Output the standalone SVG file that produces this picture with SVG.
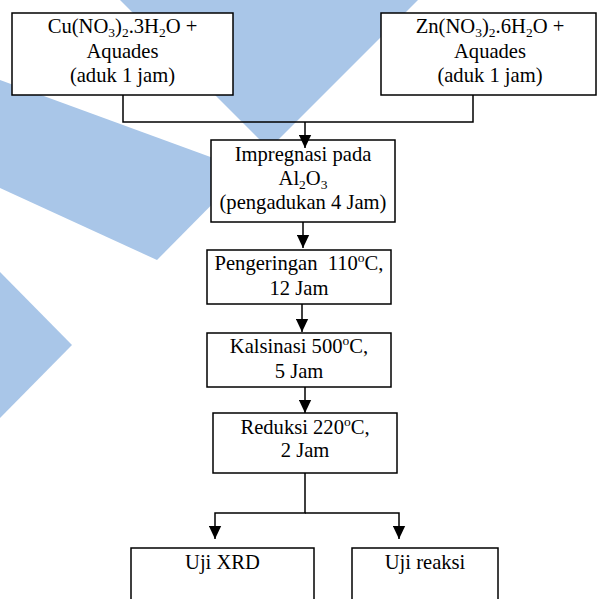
<svg xmlns="http://www.w3.org/2000/svg" width="598" height="599" viewBox="0 0 598 599">
<style>
.bg{fill:#a9c6e8;stroke:none}
.box{fill:#fff;stroke:#000;stroke-width:1.5}
.t{font-family:"Liberation Serif","Times New Roman",serif;font-size:20.6px;fill:#000;text-anchor:middle}
.s{font-size:13.5px}
.ln{fill:none;stroke:#000;stroke-width:1.5}
</style>
<defs>
<marker id="ah" markerUnits="userSpaceOnUse" markerWidth="13" markerHeight="13" refX="12" refY="6" orient="auto" viewBox="0 0 12 12">
<path d="M0,0.3 L12,6 L0,11.7 Z" fill="#000"/>
</marker>
</defs>
<g id="watermark">
<polygon class="bg" points="120,0 418,0 269,149"/>
<polygon class="bg" points="0,80 246,170 157,260 0,188"/>
<polygon class="bg" points="0,272 72,345 0,418"/>
</g>
<g id="n-cu">
<rect class="box" x="12" y="13" width="221" height="82"/>
<text class="t" x="122.5" y="33">Cu(NO<tspan class="s" dy="4">3</tspan><tspan dy="-4">)</tspan><tspan class="s" dy="4">2</tspan><tspan dy="-4">.3H</tspan><tspan class="s" dy="4">2</tspan><tspan dy="-4">O +</tspan></text>
<text class="t" x="122.5" y="58">Aquades</text>
<text class="t" x="122.5" y="82">(aduk 1 jam)</text>
</g>
<g id="n-zn">
<rect class="box" x="381" y="13" width="215" height="82"/>
<text class="t" x="490" y="33">Zn(NO<tspan class="s" dy="4">3</tspan><tspan dy="-4">)</tspan><tspan class="s" dy="4">2</tspan><tspan dy="-4">.6H</tspan><tspan class="s" dy="4">2</tspan><tspan dy="-4">O +</tspan></text>
<text class="t" x="490" y="58">Aquades</text>
<text class="t" x="490" y="82">(aduk 1 jam)</text>
</g>
<g id="n-impregnasi">
<rect class="box" x="211" y="140" width="184" height="82"/>
<text class="t" x="303" y="161">Impregnasi pada</text>
<text class="t" x="303" y="185">Al<tspan class="s" dy="4">2</tspan><tspan dy="-4">O</tspan><tspan class="s" dy="4">3</tspan></text>
<text class="t" x="303" y="209">(pengadukan 4 Jam)</text>
</g>
<g id="n-pengeringan">
<rect class="box" x="207" y="250" width="184" height="54"/>
<text class="t" x="299" y="270">Pengeringan&#160; 110<tspan class="s" dy="-8">o</tspan><tspan dy="8">C,</tspan></text>
<text class="t" x="299" y="295">12 Jam</text>
</g>
<g id="n-kalsinasi">
<rect class="box" x="207" y="333" width="184" height="54"/>
<text class="t" x="299" y="353">Kalsinasi 500<tspan class="s" dy="-8">o</tspan><tspan dy="8">C,</tspan></text>
<text class="t" x="299" y="377.5">5 Jam</text>
</g>
<g id="n-reduksi">
<rect class="box" x="213" y="413" width="184" height="60"/>
<text class="t" x="305" y="434">Reduksi 220<tspan class="s" dy="-8">o</tspan><tspan dy="8">C,</tspan></text>
<text class="t" x="305" y="457">2 Jam</text>
</g>
<g id="n-xrd">
<rect class="box" x="131" y="548" width="183" height="60"/>
<text class="t" x="222.5" y="569">Uji XRD</text>
</g>
<g id="n-reaksi">
<rect class="box" x="352" y="548" width="146" height="60"/>
<text class="t" x="425" y="569">Uji reaksi</text>
</g>
<g id="connectors">
<path class="ln" d="M123,95 V122 H473 V95"/>
<path class="ln" d="M305,122 V148" marker-end="url(#ah)"/>
<path class="ln" d="M303,222 V248" marker-end="url(#ah)"/>
<path class="ln" d="M302,304 V332" marker-end="url(#ah)"/>
<path class="ln" d="M305,387 V413" marker-end="url(#ah)"/>
<path class="ln" d="M305,473 V513 H215 V539" marker-end="url(#ah)"/>
<path class="ln" d="M305,513 H399 V539" marker-end="url(#ah)"/>
</g>
</svg>
